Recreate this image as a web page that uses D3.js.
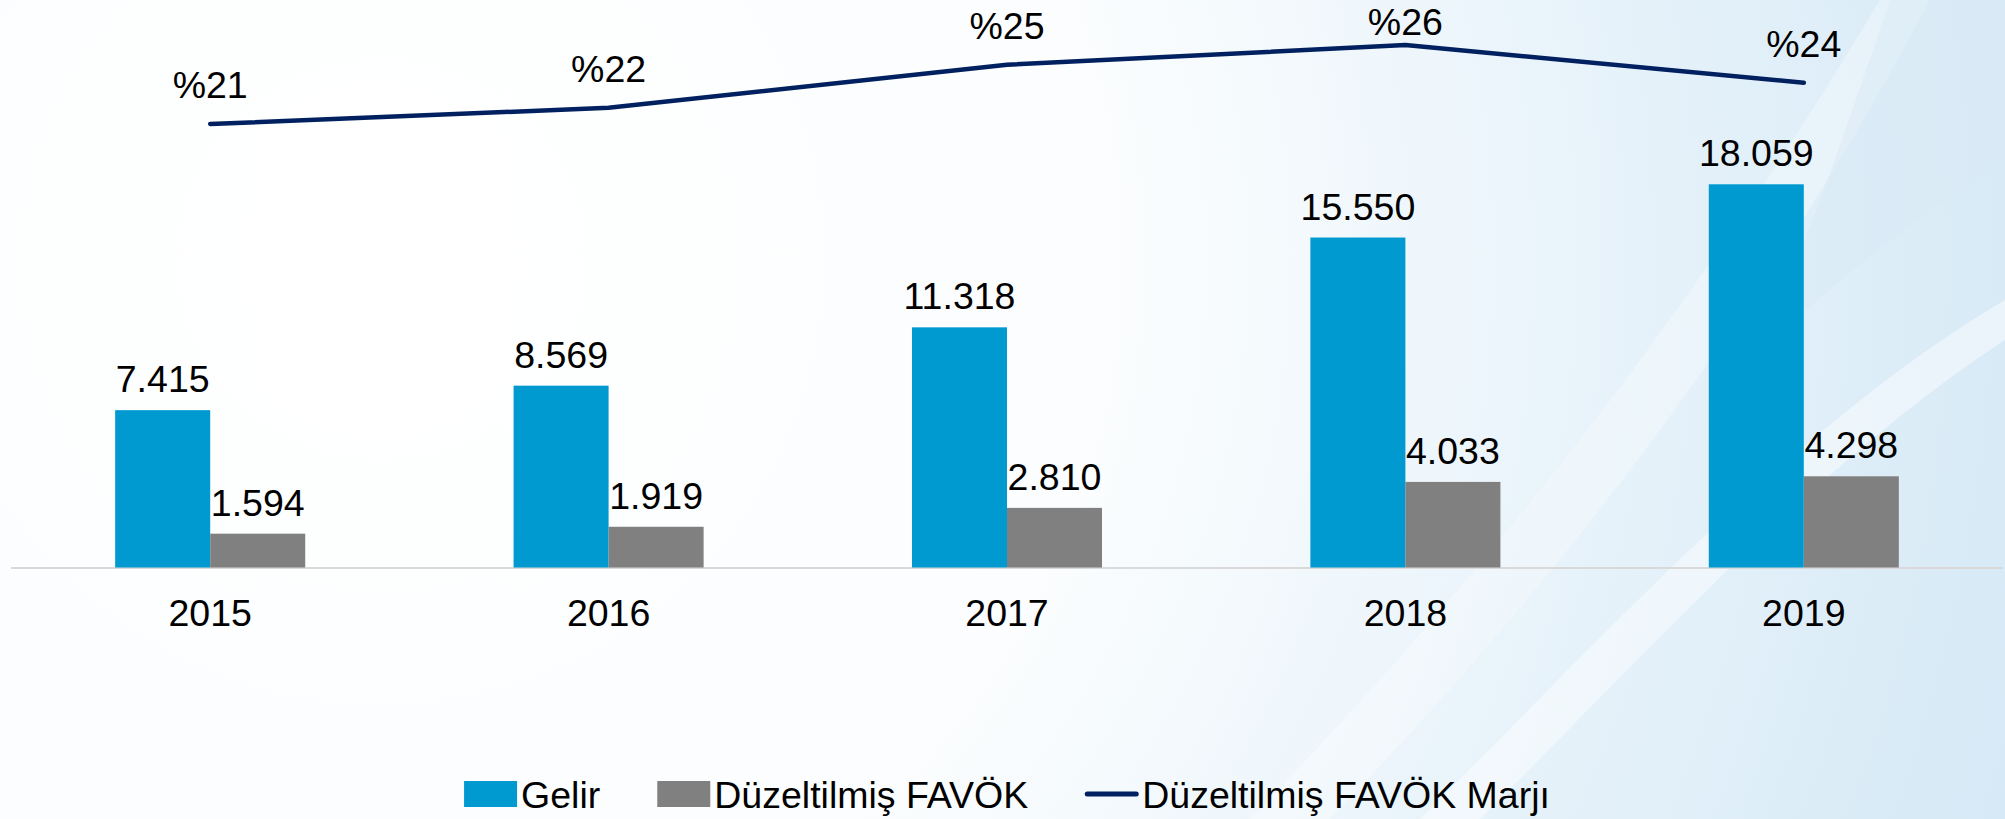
<!DOCTYPE html>
<html>
<head>
<meta charset="utf-8">
<script src="https://cdn.jsdelivr.net/npm/d3@7"></script>
<style>
  html, body { margin: 0; padding: 0; overflow: hidden; background: #fff; }
  svg { display: block; font-family: "Liberation Sans", Arial, sans-serif; }
</style>
</head>
<body>
<svg id="chart"></svg>
<script>
// values
const years = ["2015", "2016", "2017", "2018", "2019"];
const gelir = [7415, 8569, 11318, 15550, 18059];
const favok = [1594, 1919, 2810, 4033, 4298];
const marj = [21.5, 22.4, 24.8, 25.9, 23.8];
const marjLabels = ["%21", "%22", "%25", "%26", "%24"];
const seriesNames = ["Gelir", "Düzeltilmiş FAVÖK", "Düzeltilmiş FAVÖK Marjı"];

const width = 2005, height = 819;
const colors = { gelir: "#009ad0", favok: "#808080", marj: "#002060" };
const fontSize = 37.5;

const svg = d3.select("#chart")
    .attr("width", width)
    .attr("height", height);

// background: white fading to pale blue towards the right / bottom
const defs = svg.append("defs");
const bg = defs.append("radialGradient")
    .attr("id", "bg")
    .attr("gradientUnits", "userSpaceOnUse")
    .attr("cx", 380).attr("cy", 260).attr("r", 1750);
bg.append("stop").attr("offset", "0").attr("stop-color", "#ffffff");
bg.append("stop").attr("offset", "0.42").attr("stop-color", "#fbfdfe");
bg.append("stop").attr("offset", "0.72").attr("stop-color", "#e6f2fa");
bg.append("stop").attr("offset", "1").attr("stop-color", "#d4e8f5");
svg.append("rect").attr("width", width).attr("height", height).attr("fill", "url(#bg)");

// soft swooshes
svg.append("path")
    .attr("d", "M1420,819 C1600,640 1800,420 2005,300 L2005,340 C1820,460 1640,660 1480,819 Z")
    .attr("fill", "#ffffff").attr("opacity", 0.45);
svg.append("path")
    .attr("d", "M1250,819 C1500,560 1700,300 1880,0 L1930,0 C1760,320 1560,580 1330,819 Z")
    .attr("fill", "#ffffff").attr("opacity", 0.3);
svg.append("path")
    .attr("d", "M1890,0 C1840,150 1800,260 1760,350 C1860,260 1940,200 2005,160 L2005,0 Z")
    .attr("fill", "#d9eaf6").attr("opacity", 0.5);

// scales
const x = d3.scaleBand()
    .domain(years)
    .range([11, 2003])
    .paddingInner(0.523)
    .paddingOuter(0.2615);

const xs = d3.scaleBand()
    .domain(["gelir", "favok"])
    .range([0, x.bandwidth()]);

const y = d3.scaleLinear()
    .domain([0, 20000])
    .range([567.5, 143.1]);

const y2 = d3.scaleLinear()
    .domain([20, 27])
    .range([150.9, 25.3]);

const tr = d3.formatLocale({ decimal: ",", thousands: ".", grouping: [3], currency: ["", ""] });
const fmt = tr.format(",");

const rows = years.map((yr, i) => ({ year: yr, gelir: gelir[i], favok: favok[i], marj: marj[i], label: marjLabels[i] }));

// baseline
svg.append("line")
    .attr("x1", x.range()[0]).attr("x2", x.range()[1])
    .attr("y1", y(0) + 0.5).attr("y2", y(0) + 0.5)
    .attr("stroke", "#d9d9d9")
    .attr("stroke-width", 2);

// bars
const groups = svg.append("g")
    .selectAll("g")
    .data(rows)
    .join("g")
    .attr("transform", d => `translate(${x(d.year)},0)`);

groups.selectAll("rect")
    .data(d => ["gelir", "favok"].map(k => ({ key: k, value: d[k] })))
    .join("rect")
    .attr("x", d => xs(d.key))
    .attr("y", d => y(d.value))
    .attr("width", xs.bandwidth())
    .attr("height", d => y(0) - y(d.value))
    .attr("fill", d => colors[d.key]);

groups.selectAll("text")
    .data(d => ["gelir", "favok"].map(k => ({ key: k, value: d[k] })))
    .join("text")
    .attr("x", d => xs(d.key) + xs.bandwidth() / 2)
    .attr("y", d => y(d.value) - 18)
    .attr("text-anchor", "middle")
    .attr("font-size", fontSize)
    .attr("fill", "#000")
    .text(d => fmt(d.value));

// category axis labels
const xAxis = svg.append("g")
    .attr("transform", `translate(0,${y(0)})`)
    .call(d3.axisBottom(x).tickSize(0).tickPadding(0));
xAxis.select(".domain").remove();
xAxis.selectAll("text")
    .attr("font-size", fontSize)
    .attr("font-family", "Liberation Sans, Arial, sans-serif")
    .attr("fill", "#000")
    .attr("dy", null)
    .attr("y", 58);

// margin line
const line = d3.line()
    .x(d => x(d.year) + x.bandwidth() / 2)
    .y(d => y2(d.marj));

svg.append("path")
    .datum(rows)
    .attr("d", line)
    .attr("fill", "none")
    .attr("stroke", colors.marj)
    .attr("stroke-width", 4.5)
    .attr("stroke-linecap", "round")
    .attr("stroke-linejoin", "round");

// labels sit above the points, pushed down where they would leave the top edge
svg.append("g")
    .selectAll("text")
    .data(rows)
    .join("text")
    .attr("x", d => x(d.year) + x.bandwidth() / 2)
    .attr("y", d => Math.max(y2(d.marj) - 26, 35))
    .attr("text-anchor", "middle")
    .attr("font-size", fontSize)
    .attr("fill", "#000")
    .text(d => d.label);

// legend
const legend = svg.append("g");
const keyW = 53, keyH = 26, gapText = 4, gapItem = 57, legY = 794;
let lx = 0;
seriesNames.forEach((name, i) => {
    const item = legend.append("g").attr("transform", `translate(${lx},0)`);
    if (i < 2) {
        item.append("rect")
            .attr("x", 0).attr("y", legY - keyH / 2)
            .attr("width", keyW).attr("height", keyH)
            .attr("fill", i === 0 ? colors.gelir : colors.favok);
    } else {
        item.append("line")
            .attr("x1", 2).attr("x2", keyW - 2)
            .attr("y1", legY).attr("y2", legY)
            .attr("stroke", colors.marj)
            .attr("stroke-width", 5)
            .attr("stroke-linecap", "round");
    }
    const t = item.append("text")
        .attr("x", keyW + gapText)
        .attr("y", legY + 13.5)
        .attr("font-size", fontSize)
        .attr("fill", "#000")
        .text(name);
    lx += keyW + gapText + t.node().getComputedTextLength() + gapItem;
});
const legW = lx - gapItem;
legend.attr("transform", `translate(${(x.range()[0] + x.range()[1]) / 2 - legW / 2},0)`);
</script>
</body>
</html>
